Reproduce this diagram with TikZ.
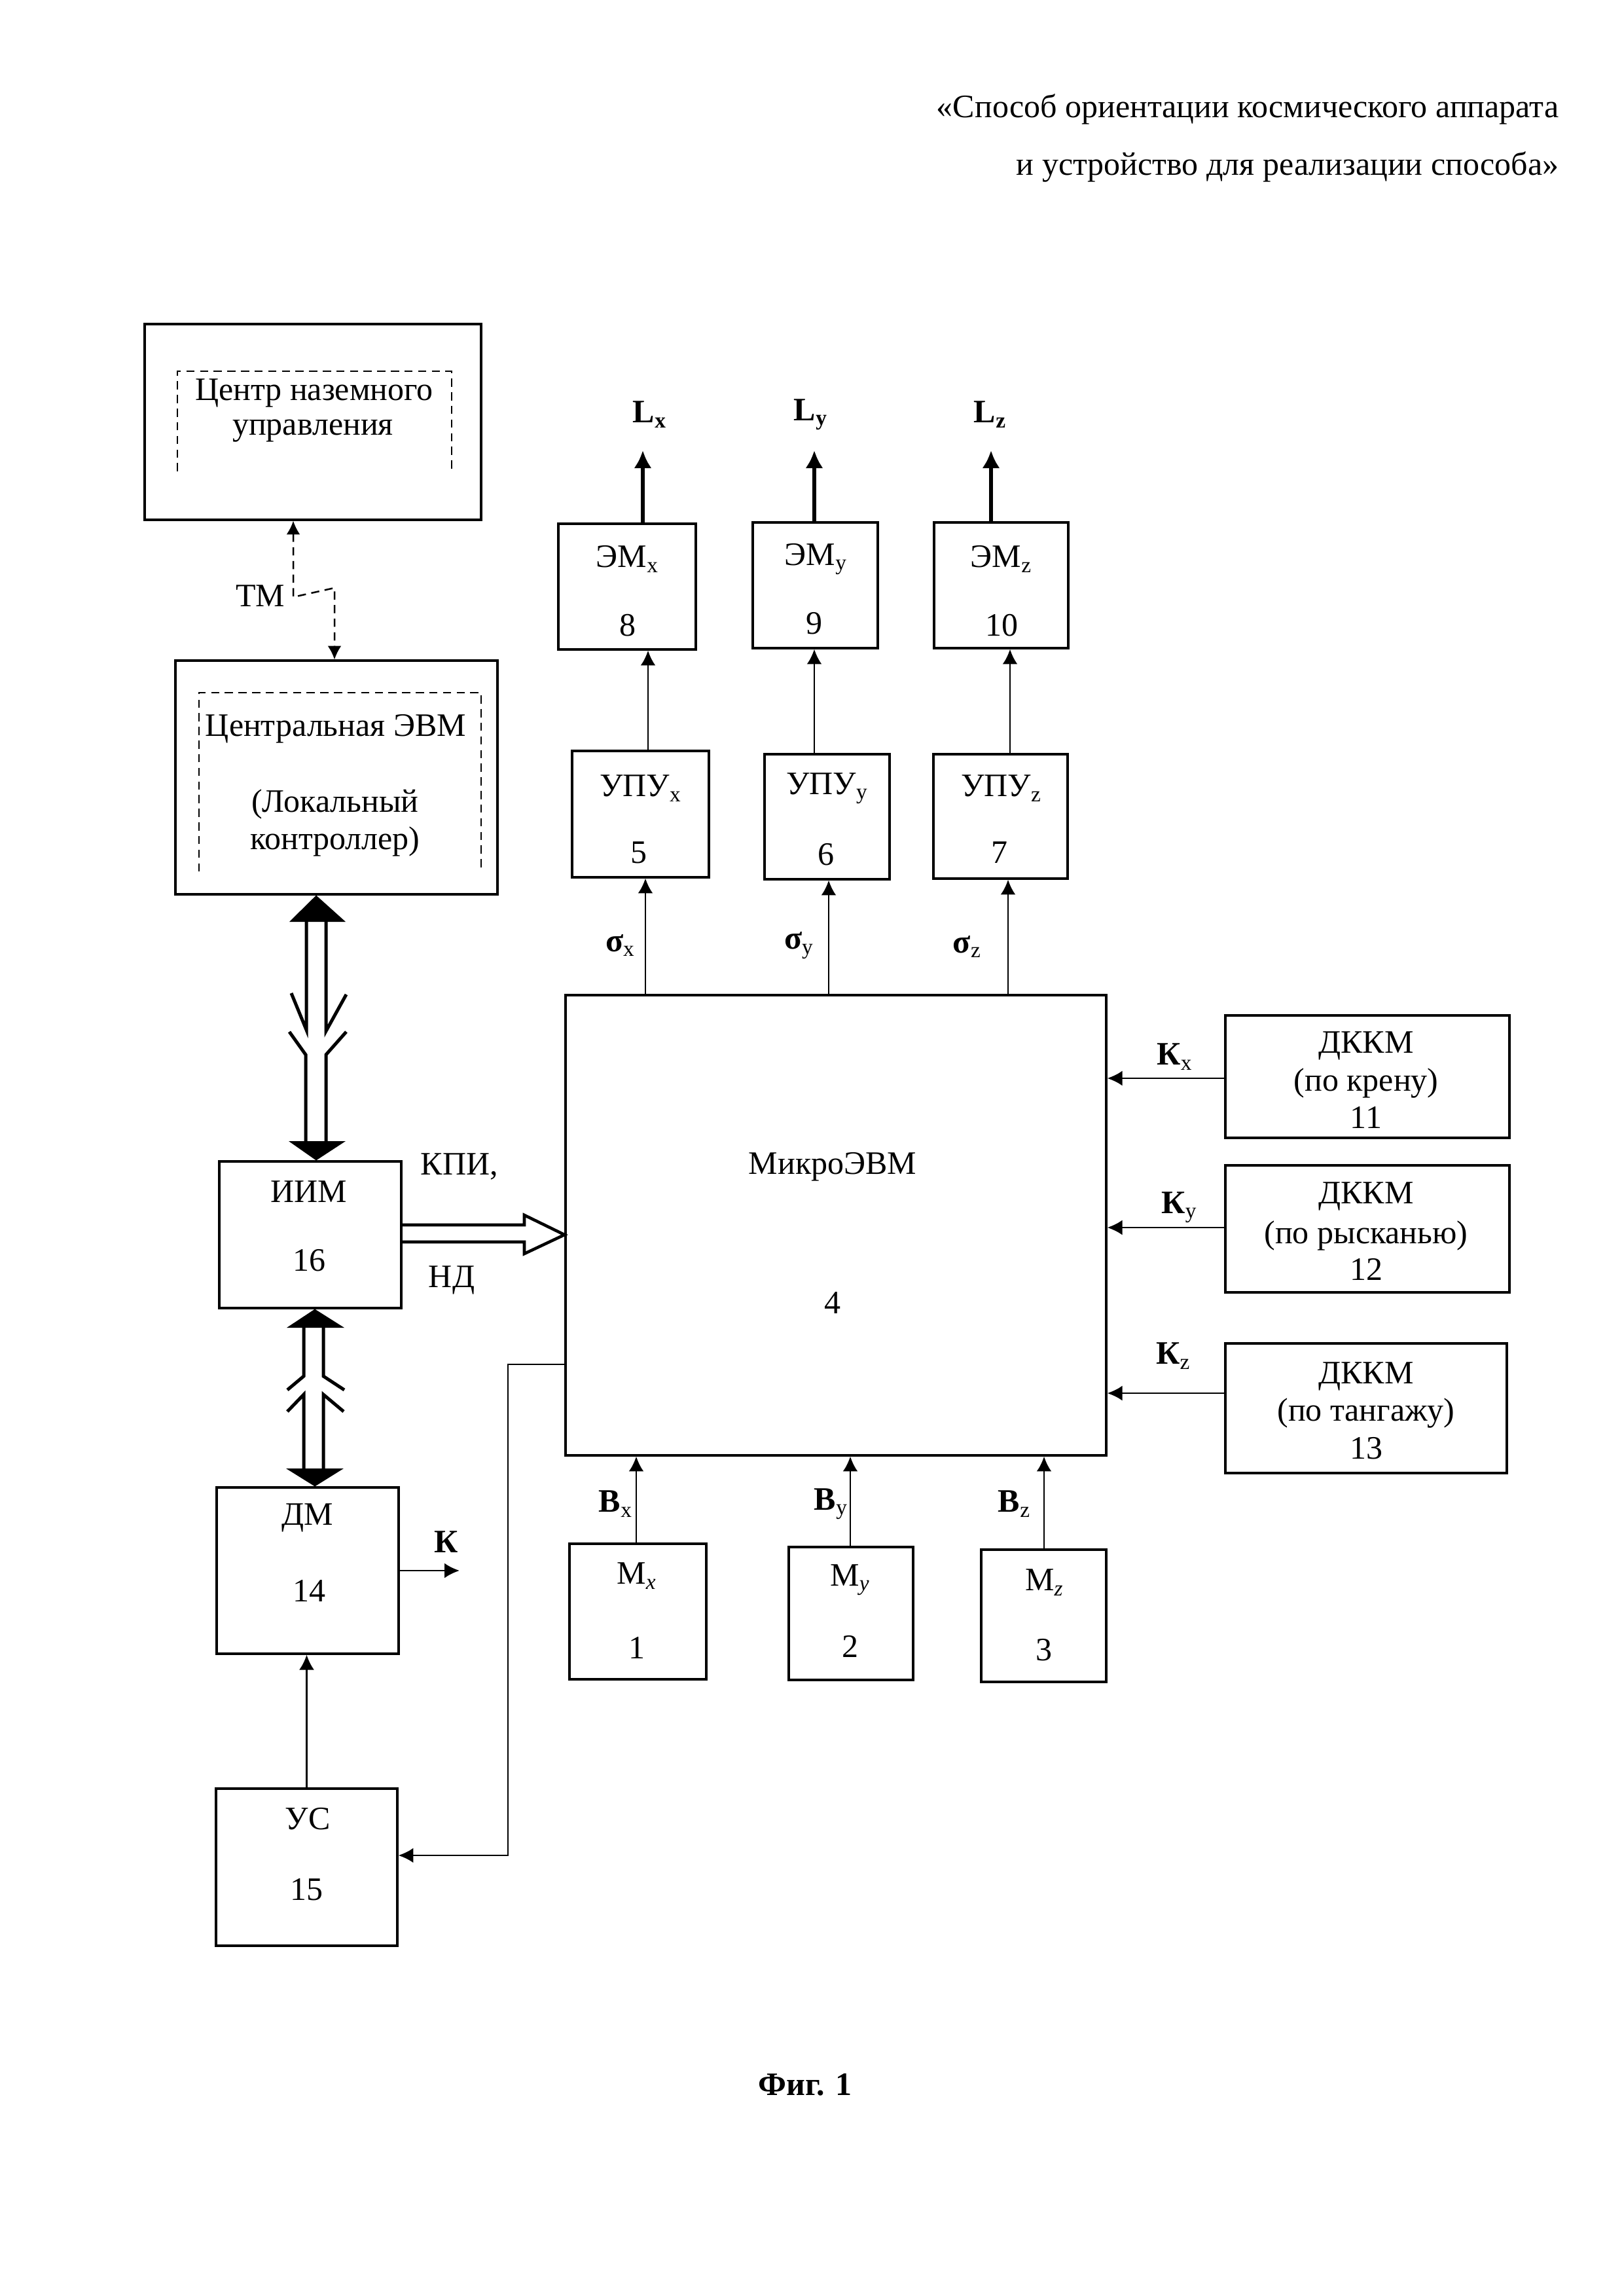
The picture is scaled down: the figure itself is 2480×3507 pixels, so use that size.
\documentclass[tikz,border=0pt]{standalone}
\usepackage{fontspec}
\setmainfont{Liberation Serif}
\usetikzlibrary{arrows.meta,fit}
\begin{document}
\begin{tikzpicture}[x=0.24pt,y=-0.24pt,font=\fontsize{12}{14}\selectfont,
 box/.style={draw,line width=0.75pt,inner sep=0pt},
 lbl/.style={inner sep=0pt},
 arr/.style={line width=0.7pt,-{Latex[length=5.5pt,width=5.5pt]}},
 thickarr/.style={line width=1.6pt,-{Latex[length=6.5pt,width=6.5pt]}},
 dsh/.style={line width=0.6pt,dash pattern=on 3pt off 2pt},
 tmarr/.style={line width=0.6pt,dash pattern=on 3pt off 2pt,{Latex[length=5pt,width=5pt]}-{Latex[length=5pt,width=5pt]}},
 bus/.style={line width=1.2pt},
 hollow/.style={line width=1.1pt,line join=miter}
]
\useasboundingbox (0,0) rectangle (2480,3507);
\fill[white] (0,0) rectangle (2480,3507);

% title
\node[lbl,anchor=east] (title1) at (2382,167) {«Способ ориентации космического аппарата};
\node[lbl,anchor=east] (title2) at (2382,255) {и устройство для реализации способа»};

% boxes
\node[box,fit={(221,495) (735,794)}] (ncu) {};
\node[box,fit={(268,1009) (760,1366)}] (cpu) {};
\node[box,fit={(335,1774) (613,1998)}] (iim) {};
\node[box,fit={(331,2272) (609,2526)}] (dm) {};
\node[box,fit={(330,2732) (607,2972)}] (us) {};
\node[box,fit={(864,1520) (1690,2223)}] (micro) {};
\node[box,fit={(874,1147) (1083,1340)}] (upux) {};
\node[box,fit={(1168,1152) (1359,1343)}] (upuy) {};
\node[box,fit={(1426,1152) (1631,1342)}] (upuz) {};
\node[box,fit={(853,800) (1063,992)}] (emx) {};
\node[box,fit={(1150,798) (1341,990)}] (emy) {};
\node[box,fit={(1427,798) (1632,990)}] (emz) {};
\node[box,fit={(1872,1551) (2306,1738)}] (d11) {};
\node[box,fit={(1872,1780) (2306,1974)}] (d12) {};
\node[box,fit={(1872,2052) (2302,2250)}] (d13) {};
\node[box,fit={(870,2358) (1079,2565)}] (mx) {};
\node[box,fit={(1205,2363) (1395,2566)}] (my) {};
\node[box,fit={(1499,2367) (1690,2569)}] (mz) {};

% inner dashed frames (open at bottom)
\draw[dsh] (271,720) -- (271,567) -- (690,567) -- (690,720);
\draw[dsh] (304,1331) -- (304,1058) -- (735,1058) -- (735,1331);

% texts in boxes
\node[lbl] (t_ncu1) at (480,600) {Центр наземного};
\node[lbl] (t_ncu2) at (478,658) {управления};
\node[lbl] (t_cpu1) at (513,1113) {Центральная ЭВМ};
\node[lbl] (t_cpu2) at (512,1228) {(Локальный};
\node[lbl] (t_cpu3) at (512,1285) {контроллер)};
\node[lbl] (t_iim1) at (472,1820) {ИИМ};
\node[lbl] (t_iim2) at (472,1925) {16};
\node[lbl] (t_dm1) at (470,2318) {ДМ};
\node[lbl] (t_dm2) at (472,2430) {14};
\node[lbl] (t_us1) at (470,2778) {УС};
\node[lbl] (t_us2) at (468,2886) {15};
\node[lbl] (t_mic1) at (1272,1782) {МикроЭВМ};
\node[lbl] (t_mic2) at (1272,1990) {4};
\node[lbl] (t_upx1) at (979,1204) {УПУ\textsubscript{x}};
\node[lbl] (t_upx2) at (976,1302) {5};
\node[lbl] (t_upy1) at (1264,1204) {УПУ\textsubscript{y}};
\node[lbl] (t_upy2) at (1262,1305) {6};
\node[lbl] (t_upz1) at (1530,1204) {УПУ\textsubscript{z}};
\node[lbl] (t_upz2) at (1527,1302) {7};
\node[lbl] (t_emx1) at (959,854) {ЭМ\textsubscript{x}};
\node[lbl] (t_emx2) at (959,955) {8};
\node[lbl] (t_emy1) at (1247,854) {ЭМ\textsubscript{y}};
\node[lbl] (t_emy2) at (1244,952) {9};
\node[lbl] (t_emz1) at (1530,854) {ЭМ\textsubscript{z}};
\node[lbl] (t_emz2) at (1530,955) {10};
\node[lbl] (t_d11a) at (2087,1597) {ДККМ};
\node[lbl] (t_d11b) at (2087,1655) {(по крену)};
\node[lbl] (t_d11c) at (2087,1707) {11};
\node[lbl] (t_d12a) at (2087,1827) {ДККМ};
\node[lbl] (t_d12b) at (2087,1887) {(по рысканью)};
\node[lbl] (t_d12c) at (2087,1939) {12};
\node[lbl] (t_d13a) at (2087,2102) {ДККМ};
\node[lbl] (t_d13b) at (2087,2159) {(по тангажу)};
\node[lbl] (t_d13c) at (2087,2212) {13};
\node[lbl] (t_mx1) at (973,2407) {М\textsubscript{\textit{x}}};
\node[lbl] (t_mx2) at (973,2517) {1};
\node[lbl] (t_my1) at (1299,2413) {М\textsubscript{\textit{y}}};
\node[lbl] (t_my2) at (1299,2515) {2};
\node[lbl] (t_mz1) at (1596,2417) {М\textsubscript{\textit{z}}};
\node[lbl] (t_mz2) at (1595,2520) {3};

% signal labels
\node[lbl] (l_tm) at (398,910) {ТМ};
\node[lbl] (l_kpi) at (702,1782) {КПИ,};
\node[lbl] (l_nd) at (690,1955) {НД};
\node[lbl] (l_k) at (682,2355) {\textbf{К}};
\node[lbl] (l_lx) at (993,633) {\textbf{L}\textsubscript{\textbf{x}}};
\node[lbl] (l_ly) at (1239,633) {\textbf{L}\textsubscript{\textbf{y}}};
\node[lbl] (l_lz) at (1513,633) {\textbf{L}\textsubscript{\textbf{z}}};
\node[lbl] (l_sx) at (948,1444) {\textbf{σ}\textsubscript{x}};
\node[lbl] (l_sy) at (1221,1444) {\textbf{σ}\textsubscript{y}};
\node[lbl] (l_sz) at (1478,1446) {\textbf{σ}\textsubscript{z}};
\node[lbl] (l_kx) at (1795,1614) {\textbf{К}\textsubscript{x}};
\node[lbl] (l_ky) at (1802,1844) {\textbf{К}\textsubscript{y}};
\node[lbl] (l_kz) at (1793,2071) {\textbf{К}\textsubscript{z}};
\node[lbl] (l_bx) at (941,2297) {\textbf{B}\textsubscript{x}};
\node[lbl] (l_by) at (1270,2297) {\textbf{B}\textsubscript{y}};
\node[lbl] (l_bz) at (1550,2297) {\textbf{B}\textsubscript{z}};

\node[lbl] (cap) at (1230,3184) {\textbf{Фиг. 1}};

% coordinates for connectors
\coordinate (tma) at (448,912);
\coordinate (tmb) at (511,898);
\coordinate (lx) at (982,688);
\coordinate (ly) at (1244,688);
\coordinate (lz) at (1514,688);
\coordinate (ex) at (990,0);
\coordinate (ey) at (1244,0);
\coordinate (ez) at (1543,0);
\coordinate (sx) at (986,0);
\coordinate (sy) at (1266,0);
\coordinate (sz) at (1540,0);
\coordinate (kxr) at (0,1647);
\coordinate (kyr) at (0,1875);
\coordinate (kzr) at (0,2128);
\coordinate (bx) at (972,0);
\coordinate (by) at (1299,0);
\coordinate (bz) at (1595,0);
\coordinate (kend) at (702,2399);
\coordinate (fb1) at (776,2084);
\coordinate (fb2) at (776,2834);

% TM link
\draw[tmarr] (tma |- ncu.south) -- (tma) -- (tmb) -- (tmb |- cpu.north);

% L outputs
\draw[thickarr] (lx |- emx.north) -- (lx);
\draw[thickarr] (ly |- emy.north) -- (ly);
\draw[thickarr] (lz |- emz.north) -- (lz);

% UPU -> EM
\draw[arr] (ex |- upux.north) -- (ex |- emx.south);
\draw[arr] (ey |- upuy.north) -- (ey |- emy.south);
\draw[arr] (ez |- upuz.north) -- (ez |- emz.south);

% micro -> UPU
\draw[arr] (sx |- micro.north) -- (sx |- upux.south);
\draw[arr] (sy |- micro.north) -- (sy |- upuy.south);
\draw[arr] (sz |- micro.north) -- (sz |- upuz.south);

% DKKM -> micro
\draw[arr] (d11.west |- kxr) -- (micro.east |- kxr);
\draw[arr] (d12.west |- kyr) -- (micro.east |- kyr);
\draw[arr] (d13.west |- kzr) -- (micro.east |- kzr);

% M -> micro
\draw[arr] (bx |- mx.north) -- (bx |- micro.south);
\draw[arr] (by |- my.north) -- (by |- micro.south);
\draw[arr] (bz |- mz.north) -- (bz |- micro.south);

% US -> DM, DM -> K
\draw[arr] (us.north) -- (us.north |- dm.south);
\draw[arr] (dm.east |- kend) -- (kend);

% feedback micro -> US
\draw[arr] (micro.west |- fb1) -- (fb1) -- (fb2) -- (fb2 -| us.east);

% hollow arrow IIM -> micro
\draw[hollow] (iim.east |- 0,1871) -- (801,1871) -- (801,1856) -- (micro.west |- 0,1886) -- (801,1915) -- (801,1897) -- (iim.east |- 0,1897);

% bus cpu <-> iim
\fill (cpu.south -| 483,0) -- (442,1408) -- (528,1408) -- cycle;
\fill (iim.north -| 483,0) -- (441,1743) -- (528,1743) -- cycle;
\draw[bus] (468,1408) -- (468,1573) -- (445,1517);
\draw[bus] (498,1408) -- (498,1575) -- (529,1519);
\draw[bus] (442,1576) -- (467,1611) -- (467,1743);
\draw[bus] (529,1576) -- (498,1611) -- (498,1743);

% bus iim <-> dm
\fill (iim.south -| 481,0) -- (438,2028) -- (526,2028) -- cycle;
\fill (dm.north -| 481,0) -- (437,2243) -- (525,2243) -- cycle;
\draw[bus] (464,2028) -- (464,2102) -- (439,2123);
\draw[bus] (494,2028) -- (494,2102) -- (526,2123);
\draw[bus] (439,2156) -- (464,2130) -- (464,2243);
\draw[bus] (525,2156) -- (494,2130) -- (494,2243);
\end{tikzpicture}
\end{document}
